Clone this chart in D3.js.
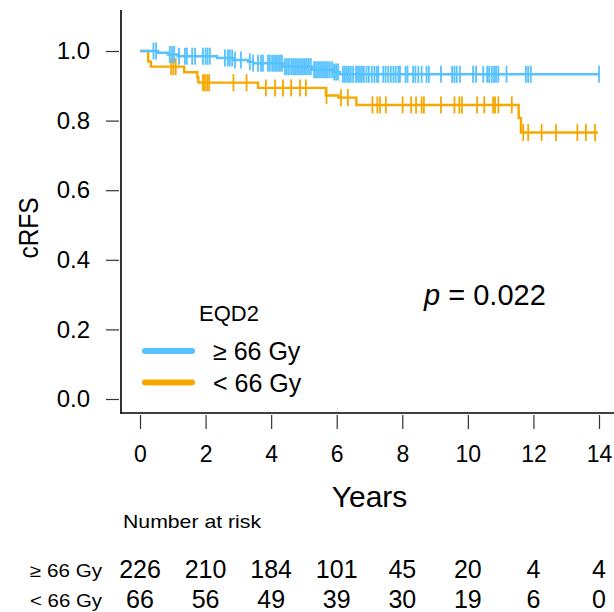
<!DOCTYPE html>
<html lang="en">
<head>
    <meta charset="UTF-8">
    <title>cRFS by EQD2</title>
    <script src="https://d3js.org/d3.v7.min.js"></script>
    <style>
        html, body {
            padding: 0;
            margin: 0;
            background-color: white;
        }
        svg text {
            font-family: "Liberation Sans", Arial, Helvetica, sans-serif;
            fill: black;
        }
    </style>
</head>
<body>
<svg id="chart" width="614" height="612"></svg>
<script>
    // group names and colours
    const groups = ["\u2265 66 Gy", "< 66 Gy"];
    const colors = ["#56C2FF", "#F6A800"];

    // step points (time in years, survival)
    const highSteps = [
        [0, 1.0], [0.55, 0.995], [0.85, 0.990], [1.15, 0.985], [2.35, 0.980],
        [2.85, 0.974], [3.3, 0.969], [3.45, 0.965], [4.35, 0.955], [5.25, 0.946],
        [5.9, 0.940], [6.1, 0.933], [14.0, 0.933]
    ];
    const lowSteps = [
        [0, 1.0], [0.25, 0.970], [0.33, 0.955], [1.35, 0.939], [1.75, 0.924],
        [1.78, 0.909], [3.6, 0.894], [5.67, 0.872], [6.05, 0.866], [6.6, 0.845],
        [11.55, 0.807], [11.62, 0.766], [13.97, 0.766]
    ];

    // censoring times (years)
    const highCensor = [
        0.41, 0.49, 0.91, 0.98, 1.04, 1.19, 1.37, 1.43, 1.59, 1.68, 1.92, 2.00, 2.06, 2.13,
        2.59, 2.68, 2.74, 2.81, 2.90, 3.08, 3.35, 3.45, 3.60, 3.69, 3.75, 3.90, 3.96, 4.03,
        4.09, 4.15, 4.21, 4.27, 4.33, 4.42, 4.48, 4.54, 4.61, 4.67, 4.73, 4.79, 4.85, 4.91,
        4.97, 5.03, 5.09, 5.15, 5.21, 5.31, 5.37, 5.43, 5.49, 5.55, 5.61, 5.67, 5.73, 5.79,
        5.86, 5.92, 5.98, 6.04, 6.19, 6.25, 6.31, 6.37, 6.43, 6.50, 6.59, 6.65, 6.71, 6.77,
        6.83, 6.91, 6.98, 7.07, 7.15, 7.22, 7.27, 7.42, 7.49, 7.57, 7.65, 7.73, 7.80, 7.88,
        7.93, 8.10, 8.16, 8.33, 8.40, 8.49, 8.59, 8.74, 8.81, 9.18, 9.52, 9.59, 9.66, 9.76,
        10.16, 10.25, 10.47, 10.59, 10.65, 10.73, 10.80, 10.86, 10.93, 11.18, 11.77, 11.84,
        11.92, 14.0
    ];
    const lowCensor = [
        0.95, 1.02, 1.09, 1.92, 1.98, 2.05, 2.11, 2.85, 3.25, 3.84, 4.12, 4.36, 4.61, 4.88,
        5.06, 5.69, 6.13, 6.34, 7.09, 7.24, 7.32, 7.50, 8.01, 8.27, 8.42, 8.59, 8.66, 9.18,
        9.59, 9.74, 9.82, 10.28, 10.50, 10.77, 10.83, 10.93, 11.34, 11.69, 11.84, 12.25,
        12.69, 13.34, 13.60, 13.88
    ];

    // axis ticks and number at risk
    const xTicks = [0, 2, 4, 6, 8, 10, 12, 14];
    const yTicks = [0, 0.2, 0.4, 0.6, 0.8, 1.0];
    const riskHigh = [226, 210, 184, 101, 45, 20, 4, 4];
    const riskLow = [66, 56, 49, 39, 30, 19, 6, 0];

    const svg = d3.select("#chart");

    const x = d3.scaleLinear().domain([0, 14]).range([140, 599]);
    const y = d3.scaleLinear().domain([0, 1]).range([399, 51]);

    // L shaped frame
    svg.append("line")
        .attr("x1", 121).attr("x2", 121).attr("y1", 10).attr("y2", 413.5)
        .attr("stroke", "black").attr("stroke-width", 1.6);
    svg.append("line")
        .attr("x1", 120.2).attr("x2", 614).attr("y1", 413).attr("y2", 413)
        .attr("stroke", "black").attr("stroke-width", 1.6);

    // y axis
    const yAxis = svg.append("g")
        .attr("transform", "translate(119,0)")
        .call(d3.axisLeft(y).tickValues(yTicks).tickSize(13).tickPadding(16)
            .tickFormat(d3.format(".1f")));
    yAxis.select(".domain").remove();
    yAxis.selectAll(".tick line").attr("stroke", "#333").attr("stroke-width", 1.2);
    yAxis.selectAll(".tick text")
        .style("font-size", "24px").style("font-family", "Liberation Sans, Arial, sans-serif")
        .attr("fill", "black");

    // x axis
    const xAxis = svg.append("g")
        .attr("transform", "translate(0,415)")
        .call(d3.axisBottom(x).tickValues(xTicks).tickSize(14).tickPadding(17)
            .tickFormat(d3.format("d")));
    xAxis.select(".domain").remove();
    xAxis.selectAll(".tick line").attr("stroke", "#333").attr("stroke-width", 1.2);
    xAxis.selectAll(".tick text")
        .style("font-size", "23px").style("font-family", "Liberation Sans, Arial, sans-serif")
        .attr("fill", "black");

    // axis titles
    svg.append("text")
        .attr("x", x(7)).attr("y", 507)
        .attr("text-anchor", "middle")
        .style("font-size", "30px")
        .text("Years");
    svg.append("text")
        .attr("transform", "translate(38,228) rotate(-90)")
        .attr("text-anchor", "middle")
        .attr("textLength", 61).attr("lengthAdjust", "spacingAndGlyphs")
        .style("font-size", "28px")
        .text("cRFS");

    // survival curves
    const stepLine = d3.line()
        .x(d => x(d[0]))
        .y(d => y(d[1]))
        .curve(d3.curveStepAfter);

    function survAt(steps, t) {
        let s = steps[0][1];
        for (const p of steps) {
            if (p[0] <= t) s = p[1];
        }
        return s;
    }

    const curves = [
        {steps: highSteps, censor: highCensor, color: colors[0]},
        {steps: lowSteps, censor: lowCensor, color: colors[1]}
    ];

    // draw orange first so that blue sits on top
    curves.slice().reverse().forEach(c => {
        const g = svg.append("g");
        g.append("path")
            .datum(c.steps)
            .attr("d", stepLine)
            .attr("fill", "none")
            .attr("stroke", c.color)
            .attr("stroke-width", 2.4);
        g.selectAll("line.censor")
            .data(c.censor)
            .join("line")
            .attr("class", "censor")
            .attr("x1", d => x(d)).attr("x2", d => x(d))
            .attr("y1", d => y(survAt(c.steps, d)) - 8.5)
            .attr("y2", d => y(survAt(c.steps, d)) + 8.5)
            .attr("stroke", c.color)
            .attr("stroke-width", 1.8);
    });

    // legend
    svg.append("text")
        .attr("x", 199).attr("y", 321)
        .style("font-size", "22px")
        .text("EQD2");
    groups.forEach((name, i) => {
        const ly = 351 + i * 31.5;
        svg.append("line")
            .attr("x1", 145).attr("x2", 192)
            .attr("y1", ly).attr("y2", ly)
            .attr("stroke", colors[i])
            .attr("stroke-width", 6)
            .attr("stroke-linecap", "round");
        svg.append("text")
            .attr("x", 213).attr("y", ly + 9)
            .style("font-size", "25px")
            .text(name);
    });

    // p value
    const pText = svg.append("text")
        .attr("x", 424).attr("y", 305)
        .style("font-size", "29px");
    pText.append("tspan").style("font-style", "italic").text("p");
    pText.append("tspan").text(" = 0.022");

    // number at risk table
    svg.append("text")
        .attr("x", 123).attr("y", 528)
        .attr("textLength", 138).attr("lengthAdjust", "spacingAndGlyphs")
        .style("font-size", "19px")
        .text("Number at risk");

    [riskHigh, riskLow].forEach((row, i) => {
        const ry = 578 + i * 30;
        svg.append("text")
            .attr("x", 30).attr("y", ry - 1)
            .attr("textLength", 72).attr("lengthAdjust", "spacingAndGlyphs")
            .style("font-size", "18px")
            .text(groups[i]);
        svg.append("g")
            .selectAll("text")
            .data(row)
            .join("text")
            .attr("x", (d, j) => x(xTicks[j]))
            .attr("y", ry)
            .attr("text-anchor", "middle")
            .style("font-size", "25px")
            .text(d => d);
    });
</script>
</body>
</html>
